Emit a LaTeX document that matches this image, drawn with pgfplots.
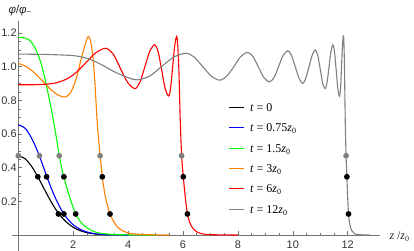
\documentclass[border=0pt]{standalone}
\usepackage{pgfplots}
\pgfplotsset{compat=1.18}
\usepackage{fontspec}
\setmainfont{Liberation Serif}
\setsansfont{Liberation Sans}
\definecolor{mgray}{rgb}{0.5,0.5,0.5}
\definecolor{morange}{rgb}{1,0.5,0}
\definecolor{mgreen}{rgb}{0,1,0}
\definecolor{mblue}{rgb}{0,0,1}
\definecolor{mred}{rgb}{1,0,0}
\definecolor{axgray}{rgb}{0.45,0.45,0.45}
\begin{document}
\begin{tikzpicture}
\begin{axis}[
  at={(0,0)}, anchor=south west,
  scale only axis, width=368.1bp, height=229.7bp,
  xmin=-0.23, xmax=13.18, ymin=-0.095, ymax=1.27,
  axis lines=middle, axis line style={-, color=axgray, line width=0.6bp},
  xtick={2,4,6,8,10,12}, xticklabels={2,4,6,8,10,12},
  ytick={0.2,0.4,0.6,0.8,1.0,1.2}, yticklabels={0.2,0.4,0.6,0.8,1.0,1.2},
  minor x tick num=3, minor y tick num=3,
  tick align=inside, major tick length=4bp, minor tick length=2.5bp,
  tick style={axgray, line width=0.5bp},
  ticklabel style={font=\sffamily\fontsize{11}{12}\selectfont, text=black!80},
  xticklabel style={anchor=north, inner sep=0pt, yshift=-6bp},
  yticklabel style={anchor=east, inner sep=1.5bp},
  xlabel={\textit{z} /\textit{z}\textsubscript{0}},
  every axis x label/.style={at={(axis description cs:1.016,0.051)}, anchor=base west, font=\fontsize{12}{14}\selectfont, text=black!85},
  ylabel={\textit{φ}/\textit{φ}\textsubscript{−}},
  every axis y label/.style={at={(axis description cs:-0.019,1.049)}, anchor=west, font=\sffamily\fontsize{11.5}{12}\selectfont, text=black!85},
  clip=false,
  every axis plot/.append style={line width=1.1bp},
]
\addplot[black, smooth] coordinates {
(0,0.471) (0.25,0.453) (0.5,0.404) (0.75,0.334) (1.0,0.256) (1.25,0.182) (1.5,0.121)
(1.75,0.077) (2.0,0.046) (2.25,0.026) (2.5,0.014) (2.75,0.007) (3.0,0.003) (3.3,0.001)};
\addplot[mblue, smooth] coordinates {
(0,0.655) (0.25,0.634) (0.5,0.570) (0.75,0.478) (1.0,0.365) (1.25,0.258) (1.5,0.170)
(1.75,0.105) (2.0,0.061) (2.25,0.034) (2.5,0.018) (2.75,0.009) (3.0,0.004) (3.5,0.001) (4.0,0)};
\addplot[mgreen, smooth] coordinates {
(0,1.175) (0.2,1.172) (0.4,1.158) (0.6,1.115) (0.8,1.035) (0.97,0.93) (1.1,0.83) (1.2,0.75)
(1.3,0.66) (1.4,0.565) (1.49,0.471) (1.58,0.400) (1.66,0.346) (1.8,0.262) (1.95,0.186)
(2.09,0.125) (2.3,0.072) (2.5,0.043) (2.75,0.021) (3.0,0.010) (3.5,0.003) (4.0,0.001) (5.0,0)};
\addplot[morange, smooth] coordinates {
(0,1.02) (0.3,1.00) (0.6,0.962) (0.9,0.912) (1.2,0.862) (1.45,0.832) (1.7,0.82) (1.9,0.845)
(2.1,0.925) (2.25,1.02) (2.38,1.10) (2.48,1.155) (2.55,1.18) (2.62,1.16) (2.68,1.11)
(2.74,1.02) (2.80,0.88) (2.87,0.68) (2.93,0.56) (2.98,0.471) (3.06,0.346) (3.15,0.245)
(3.25,0.175) (3.34,0.125) (3.5,0.072) (3.7,0.035) (4.0,0.012) (4.5,0.003) (5.5,0)};
\addplot[mred, smooth] coordinates {
(0,0.893) (0.5,0.893) (1.0,0.896) (1.4,0.905) (1.8,0.93) (2.1,0.965) (2.5,1.03) (2.8,1.08)
(3.0,1.10) (3.2,1.11) (3.46,1.075) (3.72,0.99) (3.99,0.905) (4.25,0.87) (4.43,0.908)
(4.61,1.0) (4.79,1.092) (4.97,1.13) (5.1,1.085) (5.225,0.978) (5.35,0.87) (5.48,0.826)
(5.55,0.877) (5.625,1.003) (5.70,1.128) (5.77,1.18) (5.81,1.12) (5.85,0.98) (5.90,0.68)
(5.95,0.471) (6.01,0.346) (6.08,0.23) (6.16,0.125) (6.25,0.072) (6.35,0.042) (6.5,0.019)
(6.7,0.007) (7.0,0.002) (8.0,0)};
\addplot[mgray, smooth] coordinates {
(0,1.075) (1.0,1.073) (2.0,1.066) (2.5,1.05) (3.0,1.015) (3.5,0.97) (4.0,0.935) (4.35,0.922)
(4.79,0.945) (5.22,1.001) (5.66,1.057) (6.1,1.08) (6.41,1.057) (6.72,1.0) (7.04,0.943)
(7.35,0.92) (7.6,0.945) (7.85,1.0) (8.1,1.06) (8.35,1.085) (8.55,1.06) (8.75,0.997)
(8.95,0.935) (9.15,0.91) (9.32,0.937) (9.48,1.0) (9.65,1.068) (9.82,1.095) (9.95,1.067)
(10.09,1.0) (10.23,0.93) (10.36,0.90) (10.47,0.93) (10.59,1.0) (10.71,1.07) (10.82,1.10)
(10.91,1.067) (11.0,0.985) (11.09,0.90) (11.18,0.87) (11.25,0.91) (11.32,1.0) (11.39,1.09)
(11.46,1.13) (11.52,1.085) (11.58,0.98) (11.64,0.87) (11.70,0.825) (11.74,0.877)
(11.775,1.0) (11.81,1.13) (11.85,1.18) (11.88,1.02) (11.91,0.68) (11.94,0.471)
(11.97,0.346) (12.0,0.22) (12.03,0.125) (12.08,0.06) (12.15,0.025) (12.25,0.008)
(12.4,0.002) (12.8,0)};
\addplot[only marks, mark=*, mark size=2.3bp, mgray] coordinates {
(0,0.471) (0.77,0.471) (1.49,0.471) (2.98,0.471) (5.95,0.471) (11.94,0.471)};
\addplot[only marks, mark=*, mark size=2.3bp, black] coordinates {
(0.71,0.346) (1.03,0.346) (1.66,0.346) (3.06,0.346) (6.01,0.346) (11.97,0.346)
(1.46,0.125) (1.66,0.125) (2.09,0.125) (3.34,0.125) (6.16,0.125) (12.03,0.125)};
% legend
\draw[black, line width=1.6bp] (axis cs:7.676,0.7577) -- (axis cs:8.222,0.7577);
\draw[mblue, line width=1.6bp] (axis cs:7.676,0.6389) -- (axis cs:8.222,0.6389);
\draw[mgreen, line width=1.6bp] (axis cs:7.676,0.5141) -- (axis cs:8.222,0.5141);
\draw[morange, line width=1.6bp] (axis cs:7.676,0.3952) -- (axis cs:8.222,0.3952);
\draw[mred, line width=1.6bp] (axis cs:7.676,0.2764) -- (axis cs:8.222,0.2764);
\draw[mgray, line width=1.6bp] (axis cs:7.676,0.1516) -- (axis cs:8.222,0.1516);
\begin{scope}[every node/.style={anchor=base west, yshift=-4bp, inner sep=0pt, font=\fontsize{12}{14}\selectfont}]
\node at (axis cs:8.44,0.7577) {\textit{t} = 0};
\node at (axis cs:8.44,0.6389) {\textit{t} = 0.75\textit{z}\textsubscript{0}};
\node at (axis cs:8.44,0.5141) {\textit{t} = 1.5\textit{z}\textsubscript{0}};
\node at (axis cs:8.44,0.3952) {\textit{t} = 3\textit{z}\textsubscript{0}};
\node at (axis cs:8.44,0.2764) {\textit{t} = 6\textit{z}\textsubscript{0}};
\node at (axis cs:8.44,0.1516) {\textit{t} = 12\textit{z}\textsubscript{0}};
\end{scope}
\end{axis}
\pgfresetboundingbox
\path (-12bp,0bp) rectangle (402bp,251bp);
\end{tikzpicture}
\end{document}
